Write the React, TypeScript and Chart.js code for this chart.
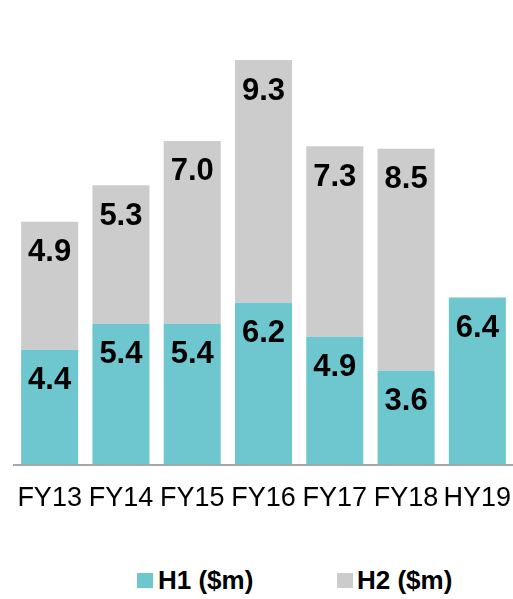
import React, { useEffect, useRef } from "react";
import { Chart, registerables } from "chart.js";

Chart.register(...registerables);

const categories = ["FY13", "FY14", "FY15", "FY16", "FY17", "FY18", "HY19"];
const h1Values = [4.4, 5.4, 5.4, 6.2, 4.9, 3.6, 6.4];
const h2Values: (number | null)[] = [4.9, 5.3, 7.0, 9.3, 7.3, 8.5, null];
const seriesNames = ["H1 ($m)", "H2 ($m)"];
const seriesColors = ["#6EC6CF", "#CCCCCC"];

const FONT = "'Liberation Sans', Arial, Helvetica, sans-serif";

const valueLabelPlugin = {
  id: "valueLabels",
  afterDatasetsDraw(chart: any) {
    const ctx = chart.ctx;
    ctx.save();
    ctx.font = `bold 31px ${FONT}`;
    ctx.fillStyle = "#000000";
    ctx.textAlign = "center";
    ctx.textBaseline = "middle";
    chart.data.datasets.forEach((ds: any, di: number) => {
      const meta = chart.getDatasetMeta(di);
      meta.data.forEach((el: any, i: number) => {
        const v = ds.data[i];
        if (v === null || v === undefined) return;
        ctx.fillText(v.toFixed(1), el.x, el.y + 31);
      });
    });
    ctx.restore();
  },
};

export default function App() {
  const canvasRef = useRef<HTMLCanvasElement | null>(null);

  useEffect(() => {
    document.body.style.margin = "0";
    const chart = new Chart(canvasRef.current as HTMLCanvasElement, {
      type: "bar",
      data: {
        labels: categories,
        datasets: [
          {
            label: seriesNames[0],
            data: h1Values,
            backgroundColor: seriesColors[0],
            barPercentage: 0.8,
            categoryPercentage: 1,
          },
          {
            label: seriesNames[1],
            data: h2Values,
            backgroundColor: seriesColors[1],
            barPercentage: 0.8,
            categoryPercentage: 1,
          },
        ],
      },
      options: {
        animation: false,
        responsive: false,
        maintainAspectRatio: false,
        layout: { padding: { left: 14, right: 0, top: 0, bottom: 0 } },
        plugins: {
          legend: { display: false },
          tooltip: { enabled: false },
        },
        scales: {
          x: {
            stacked: true,
            grid: { display: false, drawTicks: true, tickLength: 18 },
            border: { display: true, color: "#A6A6A6", width: 2 },
            ticks: {
              color: "#000000",
              font: { family: FONT, size: 27 },
              padding: 0,
              maxRotation: 0,
              autoSkip: false,
            },
          },
          y: {
            stacked: true,
            display: false,
            min: 0,
            max: 17.8,
          },
        },
      },
      plugins: [valueLabelPlugin],
    });
    return () => chart.destroy();
  }, []);

  const legendText: React.CSSProperties = {
    position: "absolute",
    top: 567,
    fontFamily: FONT,
    fontWeight: "bold",
    fontSize: 26,
    lineHeight: "26px",
    color: "#000000",
    whiteSpace: "nowrap",
  };
  const square = (left: number, color: string): React.CSSProperties => ({
    position: "absolute",
    left,
    top: 573,
    width: 16,
    height: 15,
    background: color,
  });

  return (
    <div style={{ position: "absolute", left: 0, top: 0, width: 513, height: 599, background: "#ffffff" }}>
      <canvas ref={canvasRef} width={513} height={515} style={{ position: "absolute", left: 0, top: 0 }} />
      <div style={square(137, seriesColors[0])} />
      <div style={{ ...legendText, left: 158 }}>{seriesNames[0]}</div>
      <div style={square(337, seriesColors[1])} />
      <div style={{ ...legendText, left: 357 }}>{seriesNames[1]}</div>
    </div>
  );
}
